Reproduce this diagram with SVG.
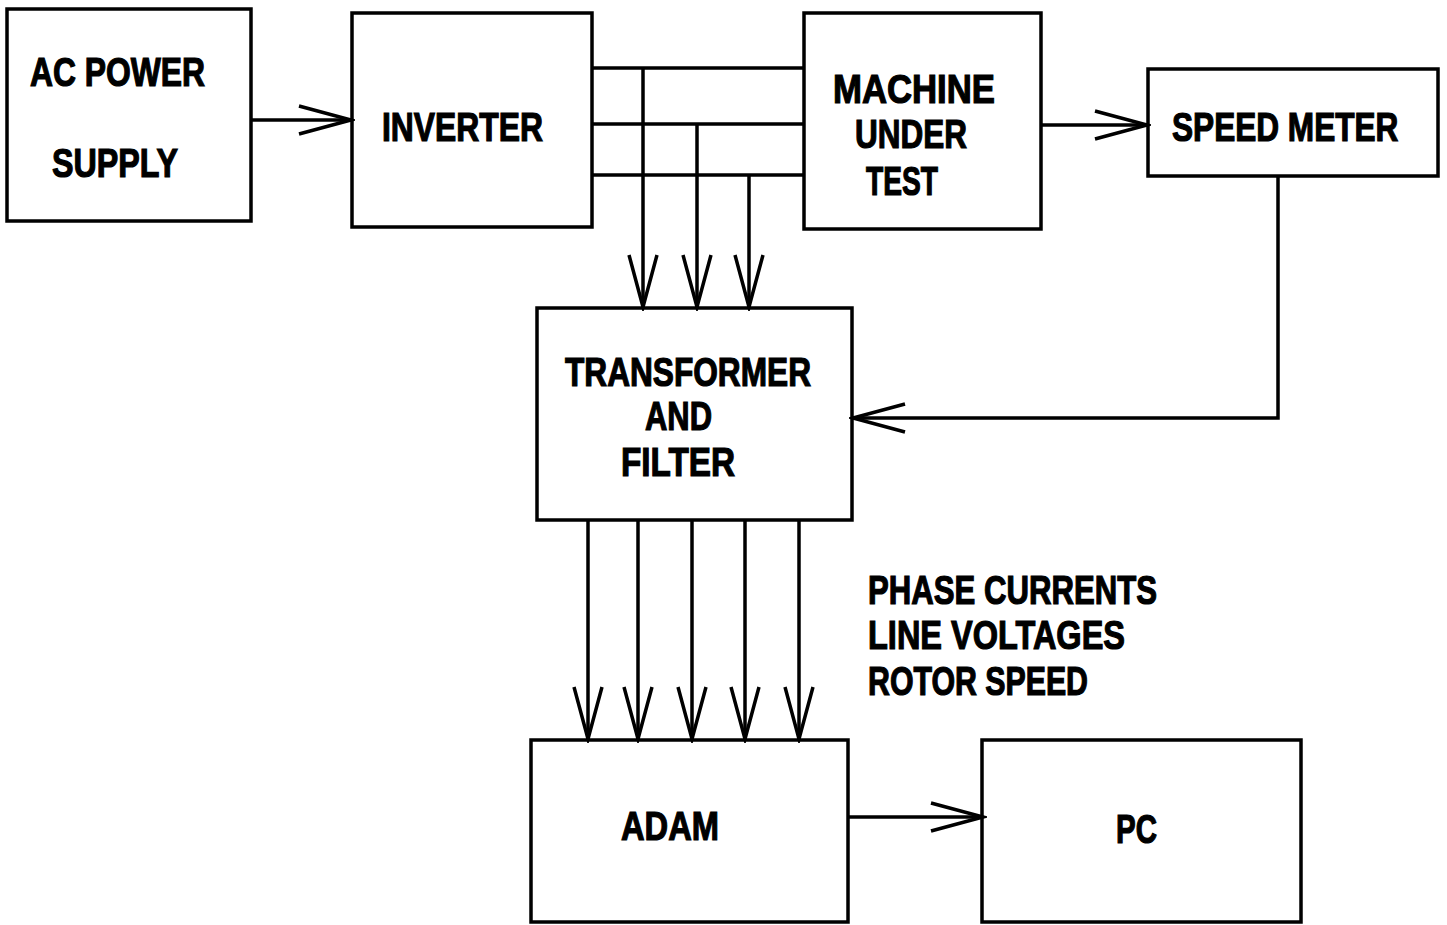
<svg xmlns="http://www.w3.org/2000/svg" width="1447" height="925" viewBox="0 0 1447 925">
<style>
.box{fill:none;stroke:#000;stroke-width:3.5}
.ln{fill:none;stroke:#000;stroke-width:3.5}
.t{font-family:"Liberation Sans",Arial,sans-serif;font-weight:bold;font-size:40px;fill:#000;stroke:#000;stroke-width:1.2}
</style>
<defs>
<marker id="v" viewBox="-56 -18 60 36" refX="0" refY="0" markerUnits="userSpaceOnUse" markerWidth="60" markerHeight="36" orient="auto">
<path d="M-52,-14 L0,0 L-52,14" fill="none" stroke="#000" stroke-width="3.5"/>
</marker>
</defs>
<rect width="1447" height="925" fill="#fff"/>
<g id="ac-power-supply">
<rect class="box" x="7" y="9" width="244" height="212"/>
<text class="t" x="30" y="86" textLength="175" lengthAdjust="spacingAndGlyphs">AC POWER</text>
<text class="t" x="52" y="177" textLength="126" lengthAdjust="spacingAndGlyphs">SUPPLY</text>
</g>
<g id="inverter">
<rect class="box" x="352" y="13" width="240" height="214"/>
<text class="t" x="382" y="141" textLength="161" lengthAdjust="spacingAndGlyphs">INVERTER</text>
</g>
<g id="machine-under-test">
<rect class="box" x="804" y="13" width="237" height="216"/>
<text class="t" x="833" y="103" textLength="162" lengthAdjust="spacingAndGlyphs">MACHINE</text>
<text class="t" x="855" y="148" textLength="112" lengthAdjust="spacingAndGlyphs">UNDER</text>
<text class="t" x="866" y="195" textLength="72" lengthAdjust="spacingAndGlyphs">TEST</text>
</g>
<g id="speed-meter">
<rect class="box" x="1148" y="69" width="290" height="107"/>
<text class="t" transform="translate(1172,141) scale(0.79,1)" x="0" y="0">SPEED METER</text>
</g>
<g id="transformer-and-filter">
<rect class="box" x="537" y="308" width="315" height="212"/>
<text class="t" x="565" y="386" textLength="246" lengthAdjust="spacingAndGlyphs">TRANSFORMER</text>
<text class="t" x="645" y="430" textLength="67" lengthAdjust="spacingAndGlyphs">AND</text>
<text class="t" x="621" y="476" textLength="114" lengthAdjust="spacingAndGlyphs">FILTER</text>
</g>
<g id="adam">
<rect class="box" x="531" y="740" width="317" height="182"/>
<text class="t" x="621" y="840" textLength="98" lengthAdjust="spacingAndGlyphs">ADAM</text>
</g>
<g id="pc">
<rect class="box" x="982" y="740" width="319" height="182"/>
<text class="t" x="1116" y="843" textLength="41" lengthAdjust="spacingAndGlyphs">PC</text>
</g>
<g id="signals-label">
<text class="t" x="868" y="604" textLength="289" lengthAdjust="spacingAndGlyphs">PHASE CURRENTS</text>
<text class="t" x="868" y="649" textLength="257" lengthAdjust="spacingAndGlyphs">LINE VOLTAGES</text>
<text class="t" x="868" y="695" textLength="220" lengthAdjust="spacingAndGlyphs">ROTOR SPEED</text>
</g>
<g id="connectors">
<path class="ln" d="M251,120 H351" marker-end="url(#v)"/>
<path class="ln" d="M592,68 H804"/>
<path class="ln" d="M592,124 H804"/>
<path class="ln" d="M592,175 H804"/>
<path class="ln" d="M643,68 V307" marker-end="url(#v)"/>
<path class="ln" d="M697,124 V307" marker-end="url(#v)"/>
<path class="ln" d="M749,175 V307" marker-end="url(#v)"/>
<path class="ln" d="M1041,125 H1147" marker-end="url(#v)"/>
<path class="ln" d="M1278,176 V418 H853" marker-end="url(#v)"/>
<path class="ln" d="M588,520 V739" marker-end="url(#v)"/>
<path class="ln" d="M638,520 V739" marker-end="url(#v)"/>
<path class="ln" d="M692,520 V739" marker-end="url(#v)"/>
<path class="ln" d="M745,520 V739" marker-end="url(#v)"/>
<path class="ln" d="M799,520 V739" marker-end="url(#v)"/>
<path class="ln" d="M848,817 H983" marker-end="url(#v)"/>
</g>
</svg>
